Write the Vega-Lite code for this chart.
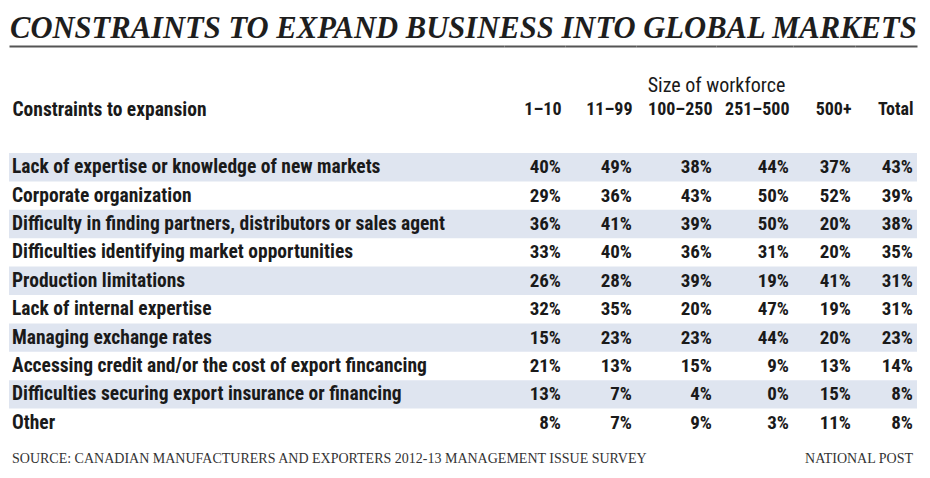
{
  "$schema": "https://vega.github.io/schema/vega-lite/v6.json",
  "background": "white",
  "padding": {"left": 9, "top": 14, "right": 0, "bottom": 0},
  "title": {"text": "CONSTRAINTS TO EXPAND BUSINESS INTO GLOBAL MARKETS", "anchor": "start", "frame": "group", "font": "Liberation Serif", "fontSize": 30.6, "fontStyle": "italic", "fontWeight": "bold", "color": "#1e1e1e", "baseline": "alphabetic", "offset": -23, "dx": 1},
  "datasets": {
    "rows": [
      {"c": "Lack of expertise or knowledge of new markets", "s": "1–10", "v": 0.40},
      {"c": "Lack of expertise or knowledge of new markets", "s": "11–99", "v": 0.49},
      {"c": "Lack of expertise or knowledge of new markets", "s": "100–250", "v": 0.38},
      {"c": "Lack of expertise or knowledge of new markets", "s": "251–500", "v": 0.44},
      {"c": "Lack of expertise or knowledge of new markets", "s": "500+", "v": 0.37},
      {"c": "Lack of expertise or knowledge of new markets", "s": "Total", "v": 0.43},
      {"c": "Corporate organization", "s": "1–10", "v": 0.29},
      {"c": "Corporate organization", "s": "11–99", "v": 0.36},
      {"c": "Corporate organization", "s": "100–250", "v": 0.43},
      {"c": "Corporate organization", "s": "251–500", "v": 0.50},
      {"c": "Corporate organization", "s": "500+", "v": 0.52},
      {"c": "Corporate organization", "s": "Total", "v": 0.39},
      {"c": "Difficulty in finding partners, distributors or sales agent", "s": "1–10", "v": 0.36},
      {"c": "Difficulty in finding partners, distributors or sales agent", "s": "11–99", "v": 0.41},
      {"c": "Difficulty in finding partners, distributors or sales agent", "s": "100–250", "v": 0.39},
      {"c": "Difficulty in finding partners, distributors or sales agent", "s": "251–500", "v": 0.50},
      {"c": "Difficulty in finding partners, distributors or sales agent", "s": "500+", "v": 0.20},
      {"c": "Difficulty in finding partners, distributors or sales agent", "s": "Total", "v": 0.38},
      {"c": "Difficulties identifying market opportunities", "s": "1–10", "v": 0.33},
      {"c": "Difficulties identifying market opportunities", "s": "11–99", "v": 0.40},
      {"c": "Difficulties identifying market opportunities", "s": "100–250", "v": 0.36},
      {"c": "Difficulties identifying market opportunities", "s": "251–500", "v": 0.31},
      {"c": "Difficulties identifying market opportunities", "s": "500+", "v": 0.20},
      {"c": "Difficulties identifying market opportunities", "s": "Total", "v": 0.35},
      {"c": "Production limitations", "s": "1–10", "v": 0.26},
      {"c": "Production limitations", "s": "11–99", "v": 0.28},
      {"c": "Production limitations", "s": "100–250", "v": 0.39},
      {"c": "Production limitations", "s": "251–500", "v": 0.19},
      {"c": "Production limitations", "s": "500+", "v": 0.41},
      {"c": "Production limitations", "s": "Total", "v": 0.31},
      {"c": "Lack of internal expertise", "s": "1–10", "v": 0.32},
      {"c": "Lack of internal expertise", "s": "11–99", "v": 0.35},
      {"c": "Lack of internal expertise", "s": "100–250", "v": 0.20},
      {"c": "Lack of internal expertise", "s": "251–500", "v": 0.47},
      {"c": "Lack of internal expertise", "s": "500+", "v": 0.19},
      {"c": "Lack of internal expertise", "s": "Total", "v": 0.31},
      {"c": "Managing exchange rates", "s": "1–10", "v": 0.15},
      {"c": "Managing exchange rates", "s": "11–99", "v": 0.23},
      {"c": "Managing exchange rates", "s": "100–250", "v": 0.23},
      {"c": "Managing exchange rates", "s": "251–500", "v": 0.44},
      {"c": "Managing exchange rates", "s": "500+", "v": 0.20},
      {"c": "Managing exchange rates", "s": "Total", "v": 0.23},
      {"c": "Accessing credit and/or the cost of export fincancing", "s": "1–10", "v": 0.21},
      {"c": "Accessing credit and/or the cost of export fincancing", "s": "11–99", "v": 0.13},
      {"c": "Accessing credit and/or the cost of export fincancing", "s": "100–250", "v": 0.15},
      {"c": "Accessing credit and/or the cost of export fincancing", "s": "251–500", "v": 0.09},
      {"c": "Accessing credit and/or the cost of export fincancing", "s": "500+", "v": 0.13},
      {"c": "Accessing credit and/or the cost of export fincancing", "s": "Total", "v": 0.14},
      {"c": "Difficulties securing export insurance or financing", "s": "1–10", "v": 0.13},
      {"c": "Difficulties securing export insurance or financing", "s": "11–99", "v": 0.07},
      {"c": "Difficulties securing export insurance or financing", "s": "100–250", "v": 0.04},
      {"c": "Difficulties securing export insurance or financing", "s": "251–500", "v": 0.00},
      {"c": "Difficulties securing export insurance or financing", "s": "500+", "v": 0.15},
      {"c": "Difficulties securing export insurance or financing", "s": "Total", "v": 0.08},
      {"c": "Other", "s": "1–10", "v": 0.08},
      {"c": "Other", "s": "11–99", "v": 0.07},
      {"c": "Other", "s": "100–250", "v": 0.09},
      {"c": "Other", "s": "251–500", "v": 0.03},
      {"c": "Other", "s": "500+", "v": 0.11},
      {"c": "Other", "s": "Total", "v": 0.08}
    ]
  },
  "data": {"name": "rows"},
  "bounds": "flush",
  "spacing": 0,
  "config": {
    "view": {"stroke": null},
    "text": {"font": "Roboto Condensed, Liberation Sans Narrow, Roboto, sans-serif", "fontSize": 19, "fontWeight": "bold", "color": "#1a1a1a", "baseline": "middle"},
    "axis": {"domainColor": "#555555", "domainWidth": 2, "ticks": false, "tickSize": 0, "labelFont": "Roboto Condensed, Liberation Sans Narrow, Roboto, sans-serif", "labelFontSize": 18, "labelFontWeight": "bold", "labelColor": "#1a1a1a", "labelPadding": -63, "labelBaseline": "middle", "labelAngle": 0, "labelAlign": "right", "labelOffset": -4, "titleFont": "Roboto Condensed, Liberation Sans Narrow, Roboto, sans-serif", "titleFontSize": 19.5, "titleColor": "#1a1a1a"}
  },
  "hconcat": [
    {
      "width": 495, "height": 284,
      "title": {"text": "SOURCE: CANADIAN MANUFACTURERS AND EXPORTERS 2012-13 MANAGEMENT ISSUE SURVEY", "orient": "bottom", "anchor": "start", "frame": "group", "font": "Liberation Serif", "fontSize": 14, "fontWeight": "normal", "color": "#333333", "baseline": "alphabetic", "offset": 26, "dx": 3},
      "transform": [{"filter": "datum.s === 'Total'"}, {"window": [{"op": "row_number", "as": "rn"}]}],
      "layer": [
        {"transform": [{"filter": "datum.rn % 2 === 1"}], "mark": {"type": "rect", "color": "#dfe5f0"}, "encoding": {"y": {"field": "c", "type": "nominal", "scale": {"domain": ["Lack of expertise or knowledge of new markets", "Corporate organization", "Difficulty in finding partners, distributors or sales agent", "Difficulties identifying market opportunities", "Production limitations", "Lack of internal expertise", "Managing exchange rates", "Accessing credit and/or the cost of export fincancing", "Difficulties securing export insurance or financing", "Other"], "paddingInner": 0, "paddingOuter": 0}, "axis": null}}},
        {"mark": {"type": "text", "align": "left", "dx": 3, "fontSize": 19.5}, "encoding": {
          "x": {"field": "s", "type": "nominal", "scale": {"type": "point", "padding": 0, "align": 0}, "axis": {"orient": "top", "offset": 107, "labels": false, "title": "Constraints to expansion", "titleX": 3, "titleY": 63, "titleAlign": "left", "titleBaseline": "middle", "titleFontWeight": "bold"}},
          "y": {"field": "c", "type": "nominal", "axis": null},
          "text": {"field": "c", "type": "nominal"}}}
      ]
    },
    {
      "width": 61, "height": 284,
      "transform": [{"filter": "datum.s === '1–10'"}, {"window": [{"op": "row_number", "as": "rn"}]}],
      "layer": [
        {"transform": [{"filter": "datum.rn % 2 === 1"}], "mark": {"type": "rect", "color": "#dfe5f0"}, "encoding": {"y": {"field": "c", "type": "nominal", "scale": {"domain": ["Lack of expertise or knowledge of new markets", "Corporate organization", "Difficulty in finding partners, distributors or sales agent", "Difficulties identifying market opportunities", "Production limitations", "Lack of internal expertise", "Managing exchange rates", "Accessing credit and/or the cost of export fincancing", "Difficulties securing export insurance or financing", "Other"], "paddingInner": 0, "paddingOuter": 0}, "axis": null}}},
        {"mark": {"type": "text", "align": "right", "dx": -4}, "encoding": {
          "x": {"field": "s", "type": "nominal", "scale": {"type": "point", "padding": 0, "align": 1}, "axis": {"orient": "top", "offset": 107, "title": null}},
          "y": {"field": "c", "type": "nominal", "axis": null},
          "text": {"field": "v", "type": "quantitative", "format": ".0%"}}}
      ]
    },
    {
      "width": 71, "height": 284,
      "transform": [{"filter": "datum.s === '11–99'"}, {"window": [{"op": "row_number", "as": "rn"}]}],
      "layer": [
        {"transform": [{"filter": "datum.rn % 2 === 1"}], "mark": {"type": "rect", "color": "#dfe5f0"}, "encoding": {"y": {"field": "c", "type": "nominal", "scale": {"domain": ["Lack of expertise or knowledge of new markets", "Corporate organization", "Difficulty in finding partners, distributors or sales agent", "Difficulties identifying market opportunities", "Production limitations", "Lack of internal expertise", "Managing exchange rates", "Accessing credit and/or the cost of export fincancing", "Difficulties securing export insurance or financing", "Other"], "paddingInner": 0, "paddingOuter": 0}, "axis": null}}},
        {"mark": {"type": "text", "align": "right", "dx": -4}, "encoding": {
          "x": {"field": "s", "type": "nominal", "scale": {"type": "point", "padding": 0, "align": 1}, "axis": {"orient": "top", "offset": 107, "title": null}},
          "y": {"field": "c", "type": "nominal", "axis": null},
          "text": {"field": "v", "type": "quantitative", "format": ".0%"}}}
      ]
    },
    {
      "width": 80, "height": 284,
      "transform": [{"filter": "datum.s === '100–250'"}, {"window": [{"op": "row_number", "as": "rn"}]}],
      "layer": [
        {"transform": [{"filter": "datum.rn % 2 === 1"}], "mark": {"type": "rect", "color": "#dfe5f0"}, "encoding": {"y": {"field": "c", "type": "nominal", "scale": {"domain": ["Lack of expertise or knowledge of new markets", "Corporate organization", "Difficulty in finding partners, distributors or sales agent", "Difficulties identifying market opportunities", "Production limitations", "Lack of internal expertise", "Managing exchange rates", "Accessing credit and/or the cost of export fincancing", "Difficulties securing export insurance or financing", "Other"], "paddingInner": 0, "paddingOuter": 0}, "axis": null}}},
        {"mark": {"type": "text", "align": "right", "dx": -4}, "encoding": {
          "x": {"field": "s", "type": "nominal", "scale": {"type": "point", "padding": 0, "align": 1}, "axis": {"orient": "top", "offset": 107, "title": null}},
          "y": {"field": "c", "type": "nominal", "axis": null},
          "text": {"field": "v", "type": "quantitative", "format": ".0%"}}}
      ]
    },
    {
      "width": 77, "height": 284,
      "transform": [{"filter": "datum.s === '251–500'"}, {"window": [{"op": "row_number", "as": "rn"}]}],
      "layer": [
        {"transform": [{"filter": "datum.rn % 2 === 1"}], "mark": {"type": "rect", "color": "#dfe5f0"}, "encoding": {"y": {"field": "c", "type": "nominal", "scale": {"domain": ["Lack of expertise or knowledge of new markets", "Corporate organization", "Difficulty in finding partners, distributors or sales agent", "Difficulties identifying market opportunities", "Production limitations", "Lack of internal expertise", "Managing exchange rates", "Accessing credit and/or the cost of export fincancing", "Difficulties securing export insurance or financing", "Other"], "paddingInner": 0, "paddingOuter": 0}, "axis": null}}},
        {"mark": {"type": "text", "align": "right", "dx": -4}, "encoding": {
          "x": {"field": "s", "type": "nominal", "scale": {"type": "point", "padding": 0, "align": 1}, "axis": {"orient": "top", "offset": 107, "title": "Size of workforce", "titleX": 0, "titleY": 39, "titleAlign": "center", "titleBaseline": "middle", "titleFontWeight": "normal", "titleFontSize": 20}},
          "y": {"field": "c", "type": "nominal", "axis": null},
          "text": {"field": "v", "type": "quantitative", "format": ".0%"}}}
      ]
    },
    {
      "width": 62, "height": 284,
      "transform": [{"filter": "datum.s === '500+'"}, {"window": [{"op": "row_number", "as": "rn"}]}],
      "layer": [
        {"transform": [{"filter": "datum.rn % 2 === 1"}], "mark": {"type": "rect", "color": "#dfe5f0"}, "encoding": {"y": {"field": "c", "type": "nominal", "scale": {"domain": ["Lack of expertise or knowledge of new markets", "Corporate organization", "Difficulty in finding partners, distributors or sales agent", "Difficulties identifying market opportunities", "Production limitations", "Lack of internal expertise", "Managing exchange rates", "Accessing credit and/or the cost of export fincancing", "Difficulties securing export insurance or financing", "Other"], "paddingInner": 0, "paddingOuter": 0}, "axis": null}}},
        {"mark": {"type": "text", "align": "right", "dx": -4}, "encoding": {
          "x": {"field": "s", "type": "nominal", "scale": {"type": "point", "padding": 0, "align": 1}, "axis": {"orient": "top", "offset": 107, "title": null}},
          "y": {"field": "c", "type": "nominal", "axis": null},
          "text": {"field": "v", "type": "quantitative", "format": ".0%"}}}
      ]
    },
    {
      "width": 62, "height": 284,
      "title": {"text": "NATIONAL POST", "orient": "bottom", "anchor": "end", "frame": "group", "font": "Liberation Serif", "fontSize": 14, "fontWeight": "normal", "color": "#333333", "baseline": "alphabetic", "offset": 26, "dx": -4},
      "transform": [{"filter": "datum.s === 'Total'"}, {"window": [{"op": "row_number", "as": "rn"}]}],
      "layer": [
        {"transform": [{"filter": "datum.rn % 2 === 1"}], "mark": {"type": "rect", "color": "#dfe5f0"}, "encoding": {"y": {"field": "c", "type": "nominal", "scale": {"domain": ["Lack of expertise or knowledge of new markets", "Corporate organization", "Difficulty in finding partners, distributors or sales agent", "Difficulties identifying market opportunities", "Production limitations", "Lack of internal expertise", "Managing exchange rates", "Accessing credit and/or the cost of export fincancing", "Difficulties securing export insurance or financing", "Other"], "paddingInner": 0, "paddingOuter": 0}, "axis": null}}},
        {"mark": {"type": "text", "align": "right", "dx": -4}, "encoding": {
          "x": {"field": "s", "type": "nominal", "scale": {"type": "point", "padding": 0, "align": 1}, "axis": {"orient": "top", "offset": 107, "title": null}},
          "y": {"field": "c", "type": "nominal", "axis": null},
          "text": {"field": "v", "type": "quantitative", "format": ".0%"}}}
      ]
    }
  ]
}
